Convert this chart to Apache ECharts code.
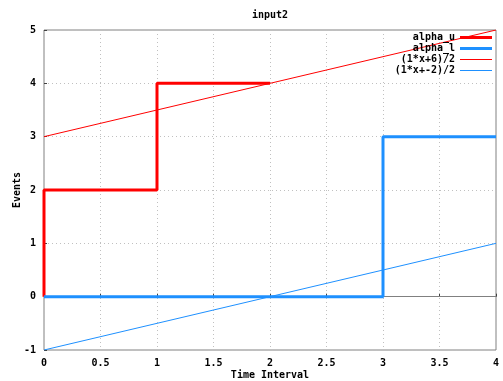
<!DOCTYPE html>
<html>
<head>
<meta charset="utf-8">
<script src="https://cdn.jsdelivr.net/npm/echarts@6/dist/echarts.min.js"></script>
<style>html,body{margin:0;padding:0;background:#fff}#c{width:503px;height:381px}</style>
</head>
<body>
<div id="c"></div>
<script>
const titleText = 'input2';
const xName = 'Time Interval';
const yName = 'Events';
const seriesNames = ['alpha_u', 'alpha_l', '(1*x+6)/2', '(1*x+-2)/2'];
const alphaUX = [0, 0, 1, 1, 2];
const alphaUY = [0, 2, 2, 4, 4];
const alphaLX = [0, 3, 3, 4];
const alphaLY = [0, 0, 3, 3];
const f1X = [0, 4];
const f1Y = [3, 5];
const f2X = [0, 4];
const f2Y = [-1, 1];

const zip = (xs, ys) => xs.map((x, i) => [x, ys[i]]);
const FONT = 'DejaVu Sans Mono';
const txt = { fontFamily: FONT, fontWeight: 'bold', fontSize: 10, color: '#000' };
const RED = '#ff0000';
const BLUE = '#1e90ff';
const colors = [RED, BLUE, RED, BLUE];
const widths = [3, 3, 1, 1];

const chart = echarts.init(document.getElementById('c'), null, { renderer: 'canvas' });
chart.setOption({
  animation: false,
  backgroundColor: '#fff',
  title: { text: titleText, left: 270, top: 10, textAlign: 'center', textStyle: Object.assign({}, txt), padding: 0 },
  grid: { left: 44, right: 7, top: 30, bottom: 31, show: true, borderColor: '#808080', borderWidth: 1, containLabel: false, outerBoundsMode: 'none' },
  legend: {
    orient: 'vertical', right: 11, top: 32, padding: 0, align: 'right',
    itemWidth: 32, itemHeight: 11, itemGap: 0,
    textStyle: Object.assign({ lineHeight: 11, height: 11 }, txt),
    data: seriesNames.map((n, i) => ({
      name: n,
      icon: 'path://M0,0H32V' + widths[i] + 'H0Z',
      itemStyle: { color: colors[i] }
    }))
  },
  xAxis: {
    type: 'value', min: 0, max: 4, interval: 0.5,
    name: xName, nameLocation: 'middle', nameGap: 20, nameMoveOverlap: false, nameTextStyle: Object.assign({}, txt),
    axisLine: { show: false },
    axisTick: { show: true, inside: true, length: 3, lineStyle: { color: '#404040' } },
    axisLabel: Object.assign({ margin: 8 }, txt),
    splitLine: { show: true, lineStyle: { color: '#c0c0c0', type: [1, 3] } }
  },
  yAxis: {
    type: 'value', min: -1, max: 5, interval: 1,
    name: yName, nameLocation: 'middle', nameGap: 22, nameMoveOverlap: false, nameTextStyle: Object.assign({}, txt),
    axisLine: { show: false },
    axisTick: { show: true, inside: true, length: 3, lineStyle: { color: '#404040' } },
    axisLabel: Object.assign({ margin: 8 }, txt),
    splitLine: { show: true, lineStyle: { color: '#c0c0c0', type: [1, 3] } }
  },
  series: [
    {
      name: seriesNames[0], type: 'line', data: zip(alphaUX, alphaUY), symbol: 'none',
      lineStyle: { color: RED, width: 3 }, itemStyle: { color: RED }, z: 3,
      markLine: { silent: true, symbol: 'none', label: { show: false }, z: 1,
        lineStyle: { color: '#808080', width: 1, type: 'solid' }, data: [{ yAxis: 0 }] }
    },
    {
      name: seriesNames[1], type: 'line', data: zip(alphaLX, alphaLY), symbol: 'none',
      lineStyle: { color: BLUE, width: 3 }, itemStyle: { color: BLUE }, z: 3
    },
    {
      name: seriesNames[2], type: 'line', data: zip(f1X, f1Y), symbol: 'none',
      lineStyle: { color: RED, width: 1 }, itemStyle: { color: RED }, z: 3
    },
    {
      name: seriesNames[3], type: 'line', data: zip(f2X, f2Y), symbol: 'none',
      lineStyle: { color: BLUE, width: 1 }, itemStyle: { color: BLUE }, z: 3
    }
  ]
});
</script>
</body>
</html>
